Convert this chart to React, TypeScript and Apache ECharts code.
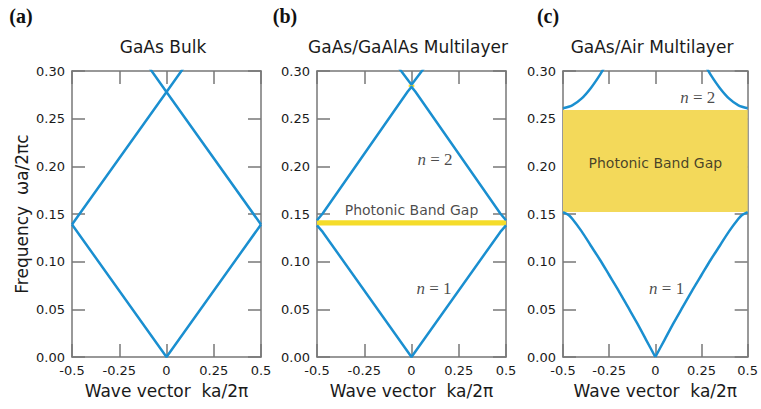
import React, { useEffect, useRef } from "react";
import * as echarts from "echarts";

// ---- data ----
const kTickLabels = ["-0.5", "-0.25", "0", "0.25", "0.5"];
const panelTitles = ["GaAs Bulk", "GaAs/GaAlAs Multilayer", "GaAs/Air Multilayer"];
const panelTags = ["(a)", "(b)", "(c)"];

// (a) GaAs bulk (folded light line)
const bulkBand1 = [[-0.5, 0.139], [0, 0], [0.5, 0.139]];
const bulkBand2 = [[-0.5, 0.139], [0, 0.278], [0.5, 0.139]];
const bulkBand3 = [[-0.1, 0.306], [0, 0.278], [0.1, 0.306]];

// (b) GaAs/GaAlAs multilayer
const mlBand1 = [[-0.5, 0.138], [-0.47, 0.1312], [0, 0], [0.47, 0.1312], [0.5, 0.138]];
const mlBand2 = [[-0.5, 0.1435], [-0.47, 0.1505], [-0.02, 0.2785], [0, 0.2833], [0.02, 0.2785], [0.47, 0.1505], [0.5, 0.1435]];
const mlBand3 = [[-0.07, 0.304], [-0.015, 0.2895], [0, 0.2857], [0.015, 0.2895], [0.07, 0.304]];
const mlGap = [0.138, 0.1435];
const mlGapTop = [0.2833, 0.2857];

// (c) GaAs/Air multilayer
const airBand1Left = [
  [-0.5, 0.152], [-0.47, 0.149], [-0.45, 0.145], [-0.4, 0.132], [-0.35, 0.117], [-0.3, 0.102],
  [-0.25, 0.086], [-0.2, 0.07], [-0.15, 0.053], [-0.1, 0.036], [-0.05, 0.018], [0, 0],
];
const airBand1Right = [
  [0, 0], [0.05, 0.018], [0.1, 0.036], [0.15, 0.053], [0.2, 0.07], [0.25, 0.086], [0.3, 0.102],
  [0.35, 0.117], [0.4, 0.132], [0.45, 0.145], [0.47, 0.149], [0.5, 0.152],
];
const airBand2Left = [[-0.5, 0.261], [-0.45, 0.264], [-0.4, 0.271], [-0.35, 0.282], [-0.3, 0.296], [-0.27, 0.306]];
const airBand2Right = [[0.5, 0.261], [0.45, 0.264], [0.4, 0.271], [0.35, 0.282], [0.3, 0.296], [0.27, 0.306]];
const airGap = [0.152, 0.259];

// annotations [k, omega, text]
const bLabels = [[0.124, 0.207, "n2"], [0.119, 0.072, "n1"]];
const cLabels = [[0.23, 0.272, "n2"], [0.061, 0.072, "n1"]];
const gapTextB = [0, 0.154];
const gapTextC = [0, 0.204];

// ---- style ----
const BLUE = "#1a8fd0";
const AXIS = "#777777";
const TXT = "#1a1a1a";
const SANS = "DejaVu Sans";
const gridLefts = [72, 317, 563];
const GW = 189;
const GTOP = 71;
const GBOTTOM = 409 - 357;

export default function App() {
  const ref = useRef<HTMLDivElement>(null);
  useEffect(() => {
    if (!ref.current) return;
    const chart = echarts.init(ref.current, undefined, { renderer: "svg" });

    const grids = gridLefts.map((l) => ({ left: l, width: GW, top: GTOP, bottom: GBOTTOM }));
    const xAxes: any[] = [];
    const yAxes: any[] = [];
    gridLefts.forEach((_, i) => {
      const common = {
        type: "value",
        gridIndex: i,
        min: -0.5,
        max: 0.5,
        interval: 0.25,
        splitLine: { show: false },
        axisLine: { show: true, onZero: false, lineStyle: { color: AXIS, width: 1.5 } },
        axisTick: { show: true, inside: true, length: 13, lineStyle: { color: AXIS, width: 1.5 } },
      };
      xAxes.push({
        ...common,
        position: "bottom",
        axisLabel: {
          show: true,
          margin: 7,
          fontFamily: SANS,
          fontSize: 13,
          color: TXT,
          formatter: (v: number) => kTickLabels[Math.round((v + 0.5) / 0.25)],
        },
        name: "Wave vector  ka/2π",
        nameLocation: "middle",
        nameGap: 25,
        nameTextStyle: { fontFamily: SANS, fontSize: 17, color: TXT },
      });
      xAxes.push({ ...common, position: "top", axisLabel: { show: false } });
      const ycommon = {
        type: "value",
        gridIndex: i,
        min: 0,
        max: 0.3,
        interval: 0.05,
        splitLine: { show: false },
        axisLine: { show: true, onZero: false, lineStyle: { color: AXIS, width: 1.5 } },
        axisTick: { show: true, inside: true, length: 13, lineStyle: { color: AXIS, width: 1.5 } },
      };
      yAxes.push({
        ...ycommon,
        position: "left",
        axisLabel: {
          show: true,
          margin: 7,
          fontFamily: SANS,
          fontSize: 13,
          color: TXT,
          formatter: (v: number) => v.toFixed(2),
        },
        ...(i === 0
          ? {
              name: "Frequency  ωa/2πc",
              nameLocation: "middle",
              nameGap: 42,
              nameTextStyle: { fontFamily: SANS, fontSize: 17, color: TXT },
            }
          : {}),
      });
      yAxes.push({ ...ycommon, position: "right", axisLabel: { show: false } });
    });

    const line = (i: number, data: number[][], extra: any = {}) => ({
      type: "line",
      xAxisIndex: 2 * i,
      yAxisIndex: 2 * i,
      data,
      showSymbol: false,
      symbol: "none",
      clip: true,
      silent: true,
      lineStyle: { color: BLUE, width: 2.5 },
      z: 3,
      ...extra,
    });

    const nRich = {
      i: { fontFamily: "Liberation Serif", fontStyle: "italic", fontSize: 17, color: TXT },
    };
    const textSeries = (i: number, pts: any[], isGap: boolean) => ({
      type: "scatter",
      xAxisIndex: 2 * i,
      yAxisIndex: 2 * i,
      symbolSize: 0,
      silent: true,
      z: 5,
      data: pts.map((p) => ({ value: [p[0], p[1]], name: p[2] })),
      label: {
        show: true,
        position: [0, 0],
        align: "center",
        verticalAlign: "middle",
        formatter: (p: any) =>
          isGap ? "Photonic Band Gap" : p.name === "n2" ? "{i|n} = 2" : "{i|n} = 1",
        fontFamily: isGap ? SANS : "Liberation Serif",
        fontSize: isGap ? 14 : 17,
        color: TXT,
        rich: isGap ? undefined : nRich,
      },
    });

    const series: any[] = [
      line(0, bulkBand1),
      line(0, bulkBand2),
      line(0, bulkBand3),
      line(1, mlBand1, {
        markArea: {
          silent: true,
          itemStyle: { color: "#f5dc2a", opacity: 1 },
          data: [
            [{ yAxis: mlGap[0] }, { yAxis: mlGap[1] }],
            [{ xAxis: -0.015, yAxis: mlGapTop[0] }, { xAxis: 0.015, yAxis: mlGapTop[1] }],
          ],
        },
      }),
      line(1, mlBand2),
      line(1, mlBand3),
      line(2, airBand1Left, {
        smooth: 0.3,
        markArea: {
          silent: true,
          itemStyle: { color: "#f3d95a", opacity: 1 },
          data: [[{ yAxis: airGap[0] }, { yAxis: airGap[1] }]],
        },
      }),
      line(2, airBand1Right, { smooth: 0.3 }),
      line(2, airBand2Left, { smooth: 0.3 }),
      line(2, airBand2Right, { smooth: 0.3 }),
      textSeries(1, bLabels, false),
      textSeries(2, cLabels, false),
      textSeries(1, [[gapTextB[0], gapTextB[1], "g"]], true),
      textSeries(2, [[gapTextC[0], gapTextC[1], "g"]], true),
    ];

    const titleX = [163, 408, 652];
    const tagX = [21, 285, 548];
    const graphic: any[] = [];
    panelTitles.forEach((t, i) => {
      graphic.push({
        type: "text",
        x: titleX[i],
        y: 47,
        style: {
          text: t,
          font: `17px "${SANS}"`,
          fill: TXT,
          textAlign: "center",
          textVerticalAlign: "middle",
          align: "center",
          verticalAlign: "middle",
        },
      });
      graphic.push({
        type: "text",
        x: tagX[i],
        y: 16,
        style: {
          text: panelTags[i],
          font: `bold 20px "Liberation Serif"`,
          fill: "#111111",
          textAlign: "center",
          textVerticalAlign: "middle",
          align: "center",
          verticalAlign: "middle",
        },
      });
    });

    chart.setOption({
      animation: false,
      backgroundColor: "#ffffff",
      grid: grids,
      xAxis: xAxes,
      yAxis: yAxes,
      series,
      graphic,
    });
    return () => chart.dispose();
  }, []);
  return (
    <div
      ref={ref}
      style={{ position: "fixed", left: 0, top: 0, width: 761, height: 409 }}
    />
  );
}
